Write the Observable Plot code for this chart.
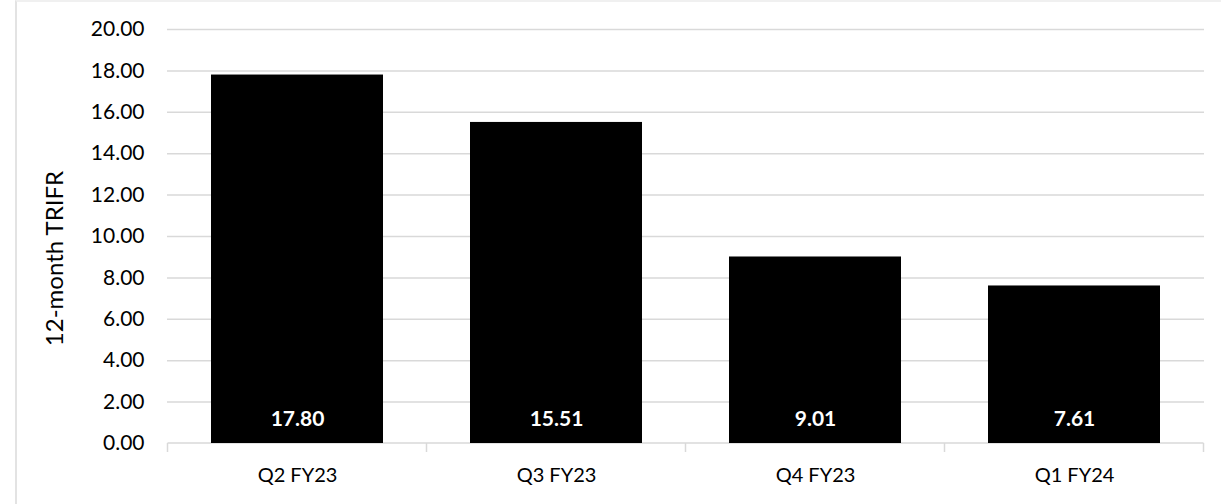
<!DOCTYPE html>
<html>
<head>
<meta charset="utf-8">
<script src="https://cdn.jsdelivr.net/npm/d3@7"></script>
<script src="https://cdn.jsdelivr.net/npm/@observablehq/plot@0.6"></script>
<style>
  html, body { margin: 0; padding: 0; background: #fff; }
  #wrap { position: relative; width: 1221px; height: 504px; overflow: hidden; }
  #frame { position: absolute; left: 15px; top: 0; width: 1300px; height: 600px; border-left: 2px solid #e3e3e3; border-top: 2px solid #f0f0f0; box-sizing: border-box; }
  #chart { position: absolute; left: 0; top: 0; }
</style>
</head>
<body>
<div id="wrap"><div id="frame"></div><div id="chart"></div></div>
<script>
const categories = ["Q2 FY23", "Q3 FY23", "Q4 FY23", "Q1 FY24"];
const values = [17.80, 15.51, 9.01, 7.61];
const yTicks = [0, 2, 4, 6, 8, 10, 12, 14, 16, 18, 20];
const yTitle = "12-month TRIFR";

const data = categories.map((c, i) => ({category: c, value: values[i]}));
const font = "Lato, 'Open Sans', sans-serif";

const boundaryTicks = (index, scales, values, dimensions) => {
  const x = scales.x, y = scales.y;
  const step = x.step();
  const g = d3.create("svg:g");
  const y0 = y(0);
  const pts = categories.map(c => x(c) - (step - x.bandwidth()) / 2);
  pts.push(x(categories[categories.length - 1]) + x.bandwidth() + (step - x.bandwidth()) / 2);
  g.append("line").attr("x1", pts[0]).attr("x2", pts[pts.length - 1]).attr("y1", y0).attr("y2", y0)
    .attr("stroke", "#d9d9d9").attr("stroke-width", 1.5);
  for (const p of pts) {
    g.append("line").attr("x1", p).attr("x2", p).attr("y1", y0).attr("y2", y0 + 9)
      .attr("stroke", "#d9d9d9").attr("stroke-width", 1.5);
  }
  return g.node();
};

const chart = Plot.plot({
  width: 1221,
  height: 504,
  marginLeft: 167,
  marginRight: 17,
  marginTop: 29,
  marginBottom: 61,
  style: {fontFamily: font, fontSize: "20px", color: "#000", background: "transparent"},
  x: {domain: categories, paddingInner: 0.336, paddingOuter: 0.168, label: null},
  y: {domain: [0, 20], ticks: yTicks, label: null},
  marks: [
    Plot.gridY(yTicks.filter(d => d > 0), {stroke: "#d9d9d9", strokeOpacity: 1, strokeWidth: 1.5}),
    Plot.axisY(yTicks, {tickSize: 0, tickPadding: 23, tickFormat: d3.format(".2f"), fontSize: 21, label: null}),
    Plot.axisX({tickSize: 0, tickPadding: 24, fontSize: 20, label: null}),
    boundaryTicks,
    Plot.barY(data, {x: "category", y: "value", fill: "#000"}),
    Plot.text(data, {x: "category", y: 0, text: d => d3.format(".2f")(d.value), fill: "#fff", fontWeight: "bold", fontSize: 21, dy: -24}),
    Plot.text([yTitle], {frameAnchor: "left", textAnchor: "middle", text: d => d, rotate: -90, dx: -112, dy: 22, fontSize: 24, fill: "#000"})
  ]
});
document.getElementById("chart").appendChild(chart);
</script>
</body>
</html>
